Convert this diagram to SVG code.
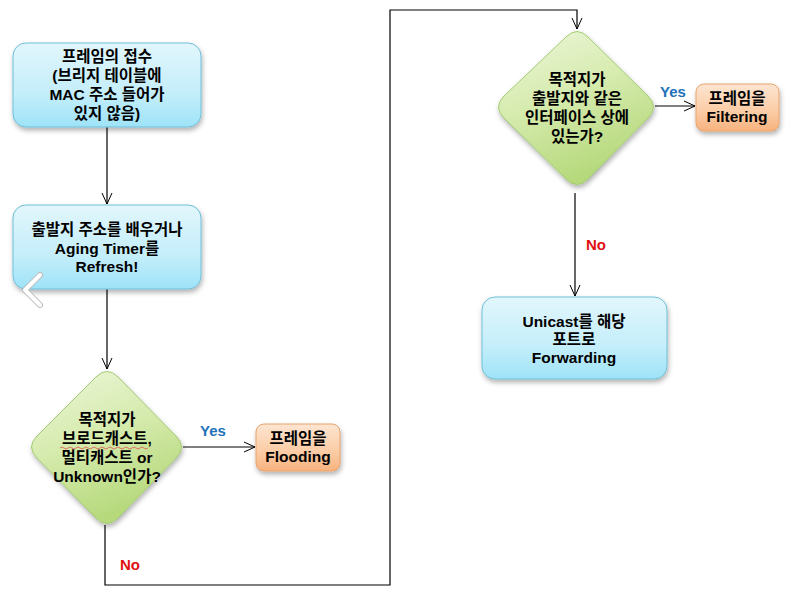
<svg xmlns="http://www.w3.org/2000/svg" width="789" height="594" viewBox="0 0 789 594">
<defs>
<linearGradient id="gBlue" x1="0" y1="0" x2="0" y2="1">
<stop offset="0" stop-color="#e2f6fc"/><stop offset="0.6" stop-color="#c4eefa"/><stop offset="1" stop-color="#9ee3f8"/>
</linearGradient>
<linearGradient id="gGreen" x1="0" y1="0" x2="0.4" y2="1">
<stop offset="0" stop-color="#eef7dc"/><stop offset="0.5" stop-color="#d6ebae"/><stop offset="1" stop-color="#b6d97c"/>
</linearGradient>
<linearGradient id="gOrange" x1="0" y1="0" x2="0" y2="1">
<stop offset="0" stop-color="#fde5d2"/><stop offset="0.6" stop-color="#fbcba4"/><stop offset="1" stop-color="#f7b27e"/>
</linearGradient>
<filter id="sh" x="-20%" y="-20%" width="140%" height="150%">
<feDropShadow dx="1" dy="3" stdDeviation="2.5" flood-color="#000" flood-opacity="0.3"/>
</filter>
<marker id="arr" markerWidth="14" markerHeight="12" refX="12" refY="6" orient="auto" markerUnits="userSpaceOnUse">
<polyline points="1,1 12,6 1,11" fill="none" stroke="#000" stroke-width="1"/>
</marker>
<style>
.t{font-family:"Liberation Sans","Noto Sans CJK KR",sans-serif;font-weight:bold;font-size:15.5px;fill:#000;text-anchor:middle}
.blue{fill:url(#gBlue);stroke:#6fbfd9;stroke-width:1}
.green{fill:url(#gGreen);stroke:#a3cc72;stroke-width:1}
.orange{fill:url(#gOrange);stroke:#e8a46c;stroke-width:1}
.c{fill:none;stroke:#000;stroke-width:1.2}
.yes{font-family:"Liberation Sans",sans-serif;font-weight:bold;font-size:15px;fill:#1f72b8}
.no{font-family:"Liberation Sans",sans-serif;font-weight:bold;font-size:15px;fill:#e01010}
</style>
</defs>
<rect width="789" height="594" fill="#fff"/>
<g id="connectors">
<line class="c" x1="107" y1="127" x2="107" y2="204" marker-end="url(#arr)"/>
<line class="c" x1="107" y1="289" x2="107" y2="369" marker-end="url(#arr)"/>
<line class="c" x1="183" y1="447" x2="255" y2="447" marker-end="url(#arr)"/>
<polyline class="c" points="105,525 105,585 390,585 390,10 577,10 577,29" marker-end="url(#arr)"/>
<line class="c" x1="655" y1="106" x2="695" y2="106" marker-end="url(#arr)"/>
<line class="c" x1="575" y1="193" x2="575" y2="296" marker-end="url(#arr)"/>
<text class="yes" x="213" y="436" text-anchor="middle">Yes</text>
<text class="no" x="130" y="570" text-anchor="middle">No</text>
<text class="yes" x="673" y="97" text-anchor="middle">Yes</text>
<text class="no" x="596" y="250" text-anchor="middle">No</text>
</g>
<g id="n1">
<rect class="blue" x="13" y="43" width="188" height="84" rx="13" filter="url(#sh)"/>
<text class="t" x="107" y="62">프레임의 접수</text>
<text class="t" x="107" y="81">(브리지 테이블에</text>
<text class="t" x="107" y="100">MAC 주소 들어가</text>
<text class="t" x="107" y="119">있지 않음)</text>
</g>
<g id="n2">
<rect class="blue" x="13" y="205" width="188" height="84" rx="13" filter="url(#sh)"/>
<text class="t" x="107" y="235">출발지 주소를 배우거나</text>
<text class="t" x="107" y="254">Aging Timer를</text>
<text class="t" x="107" y="272">Refresh!</text>
<polyline points="40,275 25,290 40,305" fill="none" stroke="#bbb" stroke-width="6" stroke-linecap="round" stroke-linejoin="round"/>
<polyline points="40,275 25,290 40,305" fill="none" stroke="#fff" stroke-width="4" stroke-linecap="round" stroke-linejoin="round"/>
</g>
<g id="d1">
<path class="green" filter="url(#sh)" d="M96,377 Q107,366 118,377 L176,436 Q187,447 176,458 L118,518 Q107,529 96,518 L37,458 Q26,447 37,436 Z"/>
<text class="t" x="107" y="425">목적지가</text>
<text class="t" x="107" y="444">브로드캐스트,</text>
<path d="M60,448 q2,-2 4,0 t4,0 t4,0 t4,0 t4,0 t4,0 t4,0 t4,0 t4,0 t4,0 t4,0 t4,0 t4,0 t4,0 t4,0 t4,0 t4,0 t4,0 t4,0 t4,0 t4,0 t4,0" fill="none" stroke="#e05050" stroke-width="0.8"/>
<text class="t" x="107" y="463">멀티캐스트 or</text>
<text class="t" x="107" y="482">Unknown인가?</text>
</g>
<g id="n3">
<rect class="orange" x="256" y="424" width="84" height="47" rx="8" filter="url(#sh)"/>
<text class="t" x="298" y="444">프레임을</text>
<text class="t" x="298" y="462">Flooding</text>
</g>
<g id="d2">
<path class="green" filter="url(#sh)" d="M566,37 Q577,26 588,37 L648,96 Q659,107 648,118 L588,179 Q577,190 566,179 L504,118 Q493,107 504,96 Z"/>
<text class="t" x="577" y="85">목적지가</text>
<text class="t" x="577" y="104">출발지와 같은</text>
<text class="t" x="577" y="123">인터페이스 상에</text>
<text class="t" x="577" y="142">있는가?</text>
</g>
<g id="n4">
<rect class="orange" x="696" y="84" width="83" height="47" rx="8" filter="url(#sh)"/>
<text class="t" x="737" y="104">프레임을</text>
<text class="t" x="737" y="122">Filtering</text>
</g>
<g id="n5">
<rect class="blue" x="482" y="297" width="185" height="82" rx="13" filter="url(#sh)"/>
<text class="t" x="574" y="327">Unicast를 해당</text>
<text class="t" x="574" y="345">포트로</text>
<text class="t" x="574" y="363">Forwarding</text>
</g>
</svg>
